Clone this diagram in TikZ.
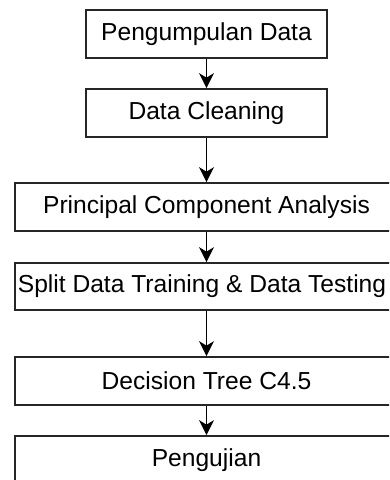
\documentclass[tikz,border=0pt]{standalone}
\usepackage{fontspec}
\setmainfont{Liberation Sans}
\usetikzlibrary{arrows.meta}
\begin{document}
\begin{tikzpicture}[x=1pt,y=-1pt,
  stepbox/.style={draw=black!85, line width=1.7pt, fill=white, inner sep=0pt,
    font=\fontsize{24.6}{29}\selectfont, text=black},
  flow/.style={line width=1.7pt, draw=black,
    -{Stealth[length=15pt, width=15pt, inset=4.5pt]}}]
\useasboundingbox (0,0) rectangle (389,480);
\clip (0,0) rectangle (389,480);
% narrow boxes at the top
\node[stepbox, minimum width=241pt, minimum height=48pt] (s1) at (206.5,34) {Pengumpulan Data};
\node[stepbox, minimum width=241pt, minimum height=48pt] (s2) at (206.5,113) {Data Cleaning};
% wide boxes below
\node[stepbox, minimum width=383pt, minimum height=48pt] (s3) at (206.5,207) {Principal Component Analysis};
\node[stepbox, minimum width=383pt, minimum height=47pt] (s4) at (206.5,286.5) {Split Data Training \& Data Testing\hspace*{9pt}};
\node[stepbox, minimum width=383pt, minimum height=48pt] (s5) at (206.5,381) {Decision Tree C4.5};
\node[stepbox, minimum width=383pt, minimum height=48pt] (s6) at (206.5,460) {Pengujian};
% connectors
\draw[flow] (s1) -- (s2);
\draw[flow] (s2) -- (s3);
\draw[flow] (s3) -- (s4);
\draw[flow] (s4) -- (s5);
\draw[flow] (s5) -- (s6);
\end{tikzpicture}
\end{document}
